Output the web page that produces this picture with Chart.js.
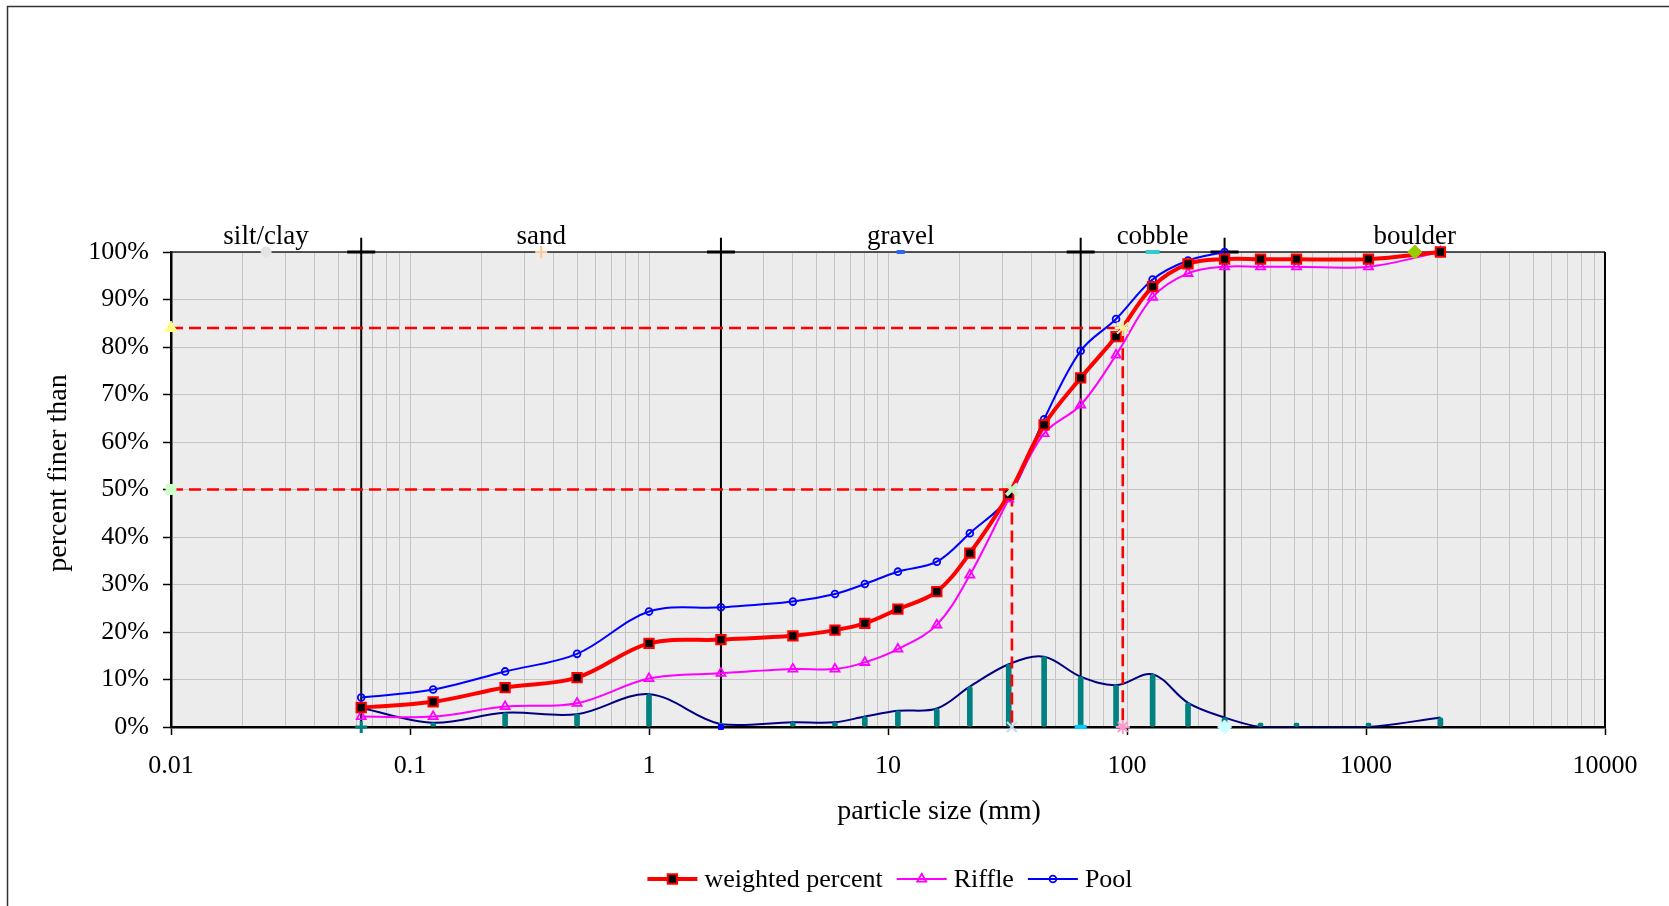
<!DOCTYPE html>
<html>
<head>
<meta charset="utf-8">
<script src="https://cdn.jsdelivr.net/npm/chart.js@4/dist/chart.umd.min.js"></script>
<style>
  html, body { margin: 0; padding: 0; background: #fff; }
  canvas { display: block; }
</style>
</head>
<body>
<canvas id="grain" width="1669" height="906"></canvas>
<script>
// Sieve sizes (mm) and cumulative percent finer for each sample
const sizes = [0.0625, 0.125, 0.25, 0.5, 1, 2, 4, 6, 8, 11, 16, 22, 32, 45, 64, 90, 128, 180, 256, 362, 512, 1024, 2048];
const weightedPct = [4.1, 5.3, 8.3, 10.4, 17.6, 18.4, 19.2, 20.4, 21.8, 24.8, 28.5, 36.6, 49.0, 63.6, 73.5, 82.2, 92.7, 97.5, 98.5, 98.5, 98.5, 98.5, 100];
const rifflePct = [2.2, 2.2, 4.3, 5.0, 10.2, 11.3, 12.2, 12.2, 13.6, 16.4, 21.5, 32.0, 48.0, 61.8, 67.8, 78.3, 90.5, 95.5, 96.9, 96.9, 96.9, 96.9, 100];
const poolPct = [6.2, 7.9, 11.7, 15.4, 24.3, 25.2, 26.4, 28.0, 30.1, 32.7, 34.8, 40.8, 48.4, 64.8, 79.2, 85.9, 94.2, 98.2, 100];
// Percent of the weighted count falling in each size class
const classPct = [4.0, 0.9, 3.0, 2.7, 6.9, 0.6, 1.0, 1.0, 2.2, 3.4, 3.9, 8.5, 13.2, 14.8, 10.6, 8.8, 11.1, 5.1, 2.0, 0, 0, 0, 2.0];

// Size-class zones
const zoneBounds = [0.0625, 2, 64, 256];
const zoneNames = ['silt/clay', 'sand', 'gravel', 'cobble', 'boulder'];
const zoneCenters = [0.025, 0.354, 11.3, 128, 1600];

// Characteristic grain sizes (mm)
const d50 = 33;
const d84 = 96;

// Axis ticks
const xDecades = [0.01, 0.1, 1, 10, 100, 1000, 10000];
const xTickLabels = ['0.01', '0.1', '1', '10', '100', '1000', '10000'];

// Reference markers (size mm, percent)
const markSizes = [0.01, 0.01, d50, d84, d50, d84, 0.025, 0.354, 11.3, 128, 1600, 0.0625, 2, 64, 256];
const markPcts = [84, 50, 50, 84, 0, 0, 100, 100, 100, 100, 100, 0, 0, 0, 0];

// ---- styling ----
const FONT = "'Liberation Serif', 'Times New Roman', serif";
const markStyle = [
  { s: 'triangle', c: '#ffff88', f: '#ffff88', r: 7, w: 1 },
  { s: 'rect', c: '#ccffcc', f: '#ccffcc', r: 7, w: 1 },
  { s: 'crossRot', c: '#c8f0c8', f: '#c8f0c8', r: 8, w: 4 },
  { s: 'star', c: '#f4f0a0', f: '#f4f0a0', r: 8, w: 2 },
  { s: 'crossRot', c: '#c8d8ec', f: '#c8d8ec', r: 7, w: 2 },
  { s: 'star', c: '#ff99cc', f: '#ff99cc', r: 7, w: 2 },
  { s: 'circle', c: '#e4e4e4', f: '#e4e4e4', r: 5, w: 1 },
  { s: 'cross', c: '#ffc896', f: '#ffc896', r: 6, w: 2 },
  { s: 'line', c: '#3366ee', f: '#3366ee', r: 4, w: 4 },
  { s: 'line', c: '#33cccc', f: '#33cccc', r: 7, w: 4 },
  { s: 'rectRot', c: '#99cc00', f: '#99cc00', r: 7, w: 1 },
  { s: 'cross', c: '#008080', f: '#008080', r: 6, w: 3 },
  { s: 'rect', c: '#0000ff', f: '#0000ff', r: 3.5, w: 1 },
  { s: 'line', c: '#00ccff', f: '#00ccff', r: 6, w: 4 },
  { s: 'rectRot', c: '#ccffff', f: '#ccffff', r: 7, w: 1 }
];

const xy = (xs, ys) => ys.map((y, i) => ({ x: xs[i], y }));
const xGridValues = xDecades.slice(0, -1)
  .flatMap(d => [1, 2, 3, 4, 5, 6, 7, 8, 9].map(m => +(m * d).toPrecision(6)))
  .concat([xDecades[xDecades.length - 1]]);
const boundaryPts = zoneBounds.flatMap(b => [{ x: b, y: 0 }, { x: b, y: 103 }, { x: b, y: null }]);

// Background, plot fill and outer frame
const frame = {
  id: 'frame',
  beforeDraw(chart) {
    const { ctx, chartArea: a } = chart;
    ctx.save();
    ctx.fillStyle = '#fff';
    ctx.fillRect(0, 0, chart.width, chart.height);
    ctx.strokeStyle = '#333';
    ctx.lineWidth = 1.5;
    ctx.beginPath();
    ctx.moveTo(7.5, chart.height + 10);
    ctx.lineTo(7.5, 6.5);
    ctx.lineTo(chart.width + 10, 6.5);
    ctx.stroke();
    ctx.fillStyle = '#ececec';
    ctx.fillRect(a.left, a.top, a.right - a.left, a.bottom - a.top);
    ctx.restore();
  },
  beforeDatasetsDraw(chart) {
    const { ctx, chartArea: a } = chart;
    ctx.save();
    ctx.strokeStyle = '#222';
    ctx.lineWidth = 1.5;
    ctx.beginPath();
    ctx.moveTo(a.left, a.top);
    ctx.lineTo(a.right, a.top);
    ctx.stroke();
    ctx.strokeStyle = '#000';
    ctx.lineWidth = 2;
    ctx.beginPath();
    ctx.moveTo(a.right, a.top);
    ctx.lineTo(a.right, a.bottom);
    ctx.stroke();
    ctx.restore();
  }
};

function drawMark(ctx, style, x, y, r, fill, stroke, lw) {
  ctx.save();
  ctx.beginPath();
  if (style === 'rect') {
    const s = r * Math.SQRT1_2;
    ctx.rect(x - s, y - s, 2 * s, 2 * s);
  } else if (style === 'triangle') {
    let a = 0;
    ctx.moveTo(x + Math.sin(a) * r, y - Math.cos(a) * r);
    a += 2 * Math.PI / 3;
    ctx.lineTo(x + Math.sin(a) * r, y - Math.cos(a) * r);
    a += 2 * Math.PI / 3;
    ctx.lineTo(x + Math.sin(a) * r, y - Math.cos(a) * r);
    ctx.closePath();
  } else {
    ctx.arc(x, y, r, 0, Math.PI * 2);
  }
  if (fill) { ctx.fillStyle = fill; ctx.fill(); }
  ctx.lineWidth = lw;
  ctx.strokeStyle = stroke;
  ctx.stroke();
  ctx.restore();
}

// Legend row under the axis title
const legendRow = {
  id: 'legendRow',
  afterDraw(chart) {
    const { ctx } = chart;
    const items = chart.data.datasets.filter(d => d.legendEntry);
    const sampleW = 50, textGap = 7, itemGap = 14, cy = 879, centerX = 890;
    ctx.save();
    ctx.font = `26px ${FONT}`;
    const widths = items.map(d => ctx.measureText(d.label).width);
    const total = widths.reduce((s, w) => s + sampleW + textGap + w, 0) + itemGap * (items.length - 1);
    let x = centerX - total / 2;
    items.forEach((d, i) => {
      ctx.strokeStyle = d.borderColor;
      ctx.lineWidth = d.borderWidth;
      ctx.beginPath();
      ctx.moveTo(x, cy);
      ctx.lineTo(x + sampleW, cy);
      ctx.stroke();
      const bg = d.pointBackgroundColor === 'transparent' ? null : d.pointBackgroundColor;
      drawMark(ctx, d.pointStyle, x + sampleW / 2, cy, d.pointRadius, bg, d.pointBorderColor, d.pointBorderWidth);
      ctx.fillStyle = '#000';
      ctx.textAlign = 'left';
      ctx.textBaseline = 'middle';
      ctx.fillText(d.label, x + sampleW + textGap, cy + 1);
      x += sampleW + textGap + widths[i] + itemGap;
    });
    ctx.restore();
  }
};

// Zone names and axis titles
const annotations = {
  id: 'annotations',
  afterDraw(chart) {
    const { ctx, chartArea: a, scales: { x, y } } = chart;
    ctx.save();
    ctx.fillStyle = '#000';
    ctx.font = `27px ${FONT}`;
    ctx.textAlign = 'center';
    ctx.textBaseline = 'alphabetic';
    zoneNames.forEach((n, i) => {
      ctx.fillText(n, x.getPixelForValue(zoneCenters[i]), y.getPixelForValue(100) - 8);
    });
    ctx.font = `28px ${FONT}`;
    ctx.textBaseline = 'middle';
    ctx.fillText('particle size (mm)', 939, a.bottom + 85);
    ctx.translate(59, 473);
    ctx.rotate(-Math.PI / 2);
    ctx.fillText('percent finer than', 0, 0);
    ctx.restore();
  }
};

new Chart(document.getElementById('grain'), {
  type: 'line',
  data: {
    datasets: [
      {
        label: 'weighted percent', legendEntry: true, order: 2,
        data: xy(sizes, weightedPct),
        borderColor: '#ff0000', borderWidth: 4, tension: 0.35,
        pointStyle: 'rect', pointRadius: 6.6, pointBackgroundColor: '#000000',
        pointBorderColor: '#ff0000', pointBorderWidth: 2, clip: false
      },
      {
        label: 'Riffle', legendEntry: true, order: 3,
        data: xy(sizes, rifflePct),
        borderColor: '#ff00ff', borderWidth: 2, tension: 0.35,
        pointStyle: 'triangle', pointRadius: 5.2, pointBackgroundColor: 'transparent',
        pointBorderColor: '#ff00ff', pointBorderWidth: 1.8, clip: false
      },
      {
        label: 'Pool', legendEntry: true, order: 4,
        data: xy(sizes, poolPct),
        borderColor: '#0000ff', borderWidth: 2, tension: 0.35,
        pointStyle: 'circle', pointRadius: 3.4, pointBackgroundColor: 'transparent',
        pointBorderColor: '#0000ff', pointBorderWidth: 1.8, clip: false
      },
      {
        label: 'class percent bars', type: 'bar', order: 6,
        data: xy(sizes.slice(1), classPct.slice(1)),
        backgroundColor: '#008080', barThickness: 5, minBarLength: 4,
        borderRadius: 2.5, borderSkipped: false, grouped: false
      },
      {
        label: 'class percent', order: 7,
        data: xy(sizes, classPct),
        borderColor: '#000080', borderWidth: 2, tension: 0.35, pointRadius: 0
      },
      {
        label: 'D50', order: 5,
        data: [{ x: xDecades[0], y: 50 }, { x: d50, y: 50 }, { x: d50, y: 0 }],
        borderColor: '#ff0000', borderWidth: 2.6, borderDash: [12, 6], pointRadius: 0, tension: 0
      },
      {
        label: 'D84', order: 5,
        data: [{ x: xDecades[0], y: 84 }, { x: d84, y: 84 }, { x: d84, y: 0 }],
        borderColor: '#ff0000', borderWidth: 2.6, borderDash: [12, 6], pointRadius: 0, tension: 0
      },
      {
        label: 'zone boundaries', order: 10,
        data: boundaryPts,
        borderColor: '#000000', borderWidth: 2, pointRadius: 0, tension: 0, clip: false, spanGaps: false
      },
      {
        label: 'zone boundary caps', order: 9, showLine: false,
        data: zoneBounds.map(b => ({ x: b, y: 100 })),
        pointStyle: 'line', pointRadius: 14, pointBorderColor: '#000', pointBorderWidth: 3, clip: false
      },
      {
        label: 'markers', order: 1, showLine: false,
        data: xy(markSizes, markPcts),
        pointStyle: markStyle.map(m => m.s),
        pointRadius: markStyle.map(m => m.r),
        pointBorderColor: markStyle.map(m => m.c),
        pointBackgroundColor: markStyle.map(m => m.f),
        pointBorderWidth: markStyle.map(m => m.w),
        clip: false
      }
    ]
  },
  options: {
    responsive: false,
    animation: false,
    devicePixelRatio: 1,
    events: [],
    layout: { padding: { top: 252, right: 64, bottom: 0, left: 0 } },
    plugins: { legend: { display: false }, tooltip: { enabled: false } },
    scales: {
      x: {
        type: 'logarithmic', min: xDecades[0], max: xDecades[xDecades.length - 1],
        offset: false,
        grid: {
          offset: false, color: '#c4c4c4', lineWidth: 1, tickLength: 8, tickWidth: 1.5,
          tickColor: c => (c.tick && xDecades.includes(c.tick.value)) ? '#000' : 'rgba(0,0,0,0)'
        },
        border: { display: true, color: '#000', width: 2.5 },
        ticks: {
          autoSkip: false, maxRotation: 0, minRotation: 0, padding: 16, color: '#000',
          font: { family: FONT, size: 26 },
          callback: v => { const i = xDecades.indexOf(v); return i >= 0 ? xTickLabels[i] : ''; }
        },
        afterBuildTicks: s => { s.ticks = xGridValues.map(v => ({ value: v })); },
        afterFit: s => { s.height = 906 - 727; }
      },
      y: {
        min: 0, max: 100,
        grid: { color: '#c4c4c4', lineWidth: 1, tickLength: 8, tickColor: '#000', tickWidth: 1.5 },
        border: { display: true, color: '#000', width: 2.5 },
        ticks: {
          stepSize: 10, padding: 14, color: '#000',
          font: { family: FONT, size: 26 },
          callback: v => v + '%'
        },
        afterFit: s => { s.width = 171; }
      }
    }
  },
  plugins: [frame, legendRow, annotations]
});
</script>
</body>
</html>
